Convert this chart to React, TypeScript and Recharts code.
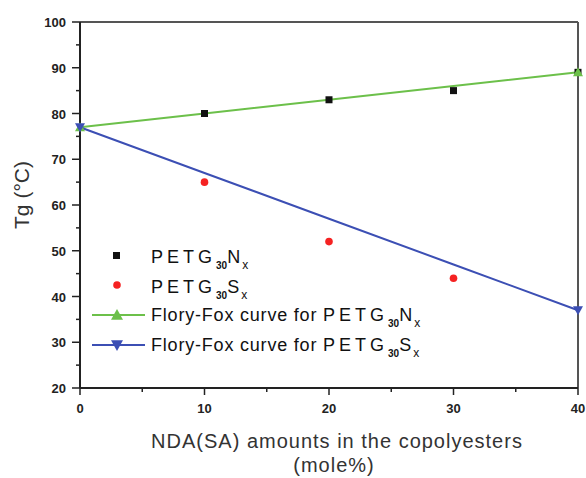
import React, { useLayoutEffect } from 'react';
import {
  ComposedChart,
  Line,
  Scatter,
  XAxis,
  YAxis,
  ReferenceLine,
  Legend,
  Label,
} from 'recharts';

// NDA(SA) content, mole%
const xValues = [0, 10, 20, 30, 40];
// measured Tg (°C)
const petgNx = [null, 80, 83, 85, 89];
const petgSx = [null, 65, 52, 44, null];
// Flory-Fox predictions
const floryFoxN = [77, 80, 83, 86, 89];
const floryFoxS = [77, 67, 57, 47, 37];

const xTicks = [0, 5, 10, 15, 20, 25, 30, 35, 40];
const yTicks = [20, 25, 30, 35, 40, 45, 50, 55, 60, 65, 70, 75, 80, 85, 90, 95, 100];

const FONT = '"Liberation Sans", Arial, sans-serif';
const GREEN = '#6cc04a';
const BLUE = '#3c4fb4';
const RED = '#f52222';
const AXIS = '#222';

const rows = xValues.map((x, i) => ({
  x,
  fn: floryFoxN[i],
  fs: floryFoxS[i],
}));
const nPoints = xValues
  .map((x, i) => ({ x, n: petgNx[i] }))
  .filter((d) => d.n !== null);
const sPoints = xValues
  .map((x, i) => ({ x, s: petgSx[i] }))
  .filter((d) => d.s !== null);

const XTick = (props: any) => {
  const { x, y, payload } = props;
  const major = payload.value % 10 === 0;
  return (
    <g>
      <line x1={x} x2={x} y1={y} y2={y + (major ? 7 : 4)} stroke={AXIS} strokeWidth={1.5} />
      {major && (
        <text x={x} y={y + 25} textAnchor="middle" fontFamily={FONT} fontSize={13} fontWeight="bold" fill={AXIS}>
          {payload.value}
        </text>
      )}
    </g>
  );
};

const YTick = (props: any) => {
  const { x, y, payload } = props;
  const major = payload.value % 10 === 0;
  return (
    <g>
      <line x1={x} x2={x - (major ? 8 : 4)} y1={y} y2={y} stroke={AXIS} strokeWidth={1.5} />
      {major && (
        <text x={x - 14} y={y + 5} textAnchor="end" fontFamily={FONT} fontSize={13} fontWeight="bold" fill={AXIS}>
          {payload.value}
        </text>
      )}
    </g>
  );
};

const upTri = (cx: number, cy: number, r: number) =>
  `M${cx},${cy - r} L${cx + r},${cy + r * 0.8} L${cx - r},${cy + r * 0.8} Z`;
const downTri = (cx: number, cy: number, r: number) =>
  `M${cx},${cy + r} L${cx + r},${cy - r * 0.8} L${cx - r},${cy - r * 0.8} Z`;

const endDot = (color: string, down: boolean) => (p: any) => {
  const last = xValues.length - 1;
  if (p.index !== 0 && p.index !== last) return <g key={p.index} />;
  return (
    <path
      key={p.index}
      d={down ? downTri(p.cx, p.cy, 5) : upTri(p.cx, p.cy, 5)}
      fill={color}
    />
  );
};

const Square = (p: any) => <rect x={p.cx - 3.5} y={p.cy - 3.5} width={7} height={7} fill="#111" />;
const Dot = (p: any) => <circle cx={p.cx} cy={p.cy} r={3.8} fill={RED} />;

const PetgName = ({ letter }: { letter: string }) => (
  <>
    <tspan letterSpacing={4}>PETG</tspan>
    <tspan fontSize={10} fontWeight="bold" letterSpacing={0} dy={6}>30</tspan>
    <tspan dy={-6} letterSpacing={0}>{letter}</tspan>
    <tspan fontSize={12} letterSpacing={0} dx={2} dy={6}>x</tspan>
  </>
);

const LegendBox = () => (
  <svg width={380} height={120}>
    <g fontFamily={FONT} fontSize={18} fill="#111" letterSpacing={0.8}>
      <rect x={25} y={8} width={7} height={7} fill="#111" />
      <text x={63} y={19}>
        <PetgName letter="N" />
      </text>

      <circle cx={29} cy={41} r={3.8} fill={RED} />
      <text x={63} y={49}>
        <PetgName letter="S" />
      </text>

      <line x1={4} x2={57} y1={71} y2={71} stroke={GREEN} strokeWidth={2} />
      <path d={upTri(29, 71, 6)} fill={GREEN} />
      <text x={63} y={77}>
        Flory-Fox curve for <PetgName letter="N" />
      </text>

      <line x1={4} x2={57} y1={101} y2={101} stroke={BLUE} strokeWidth={2} />
      <path d={downTri(29, 101, 6)} fill={BLUE} />
      <text x={63} y={107}>
        Flory-Fox curve for <PetgName letter="S" />
      </text>
    </g>
  </svg>
);

const YTitle = (props: any) => {
  const { viewBox } = props;
  const cx = 21;
  const cy = viewBox.y + viewBox.height / 2 - 10;
  return (
    <text
      x={cx}
      y={cy}
      transform={`rotate(-90, ${cx}, ${cy})`}
      textAnchor="middle"
      dominantBaseline="central"
      fontFamily={FONT}
      fontSize={21}
      fill="#333"
    >
      Tg (°C)
    </text>
  );
};

const XTitle = (props: any) => {
  const { viewBox } = props;
  const cx = viewBox.x + viewBox.width / 2 + 8;
  return (
    <g fontFamily={FONT} fontSize={20} fill="#333" letterSpacing={1}>
      <text x={cx} y={448} textAnchor="middle">
        NDA(SA) amounts in the copolyesters
      </text>
      <text x={cx - 3} y={472} textAnchor="middle">
        (mole%)
      </text>
    </g>
  );
};

export default function App() {
  useLayoutEffect(() => {
    document.body.style.margin = '0';
  }, []);

  return (
    <div style={{ width: 586, height: 478, background: '#fff' }}>
      <ComposedChart
        width={586}
        height={478}
        data={rows}
        margin={{ top: 22, right: 8, bottom: 0, left: 0 }}
      >
        <XAxis
          dataKey="x"
          type="number"
          domain={[0, 40]}
          ticks={xTicks}
          interval={0}
          height={90}
          tickSize={0}
          tickMargin={0}
          tickLine={false}
          tick={<XTick />}
          axisLine={{ stroke: AXIS, strokeWidth: 2 }}
        >
          <Label content={<XTitle />} />
        </XAxis>
        <YAxis
          type="number"
          domain={[20, 100]}
          ticks={yTicks}
          interval={0}
          width={80}
          tickSize={0}
          tickMargin={0}
          tickLine={false}
          tick={<YTick />}
          axisLine={{ stroke: AXIS, strokeWidth: 2 }}
        >
          <Label content={<YTitle />} />
        </YAxis>
        <ReferenceLine y={100} stroke="#555" strokeWidth={2} />
        <ReferenceLine x={40} stroke="#555" strokeWidth={2} />
        <Scatter data={nPoints} dataKey="n" shape={<Square />} isAnimationActive={false} />
        <Scatter data={sPoints} dataKey="s" shape={<Dot />} isAnimationActive={false} />
        <Line
          type="linear"
          dataKey="fn"
          stroke={GREEN}
          strokeWidth={2}
          dot={endDot(GREEN, false)}
          activeDot={false}
          isAnimationActive={false}
        />
        <Line
          type="linear"
          dataKey="fs"
          stroke={BLUE}
          strokeWidth={2}
          dot={endDot(BLUE, true)}
          activeDot={false}
          isAnimationActive={false}
        />
        <Legend
          layout="vertical"
          align="center"
          verticalAlign="middle"
          content={<LegendBox />}
          wrapperStyle={{ position: 'absolute', left: 88, top: 244, width: 380, height: 120 }}
        />
      </ComposedChart>
    </div>
  );
}
